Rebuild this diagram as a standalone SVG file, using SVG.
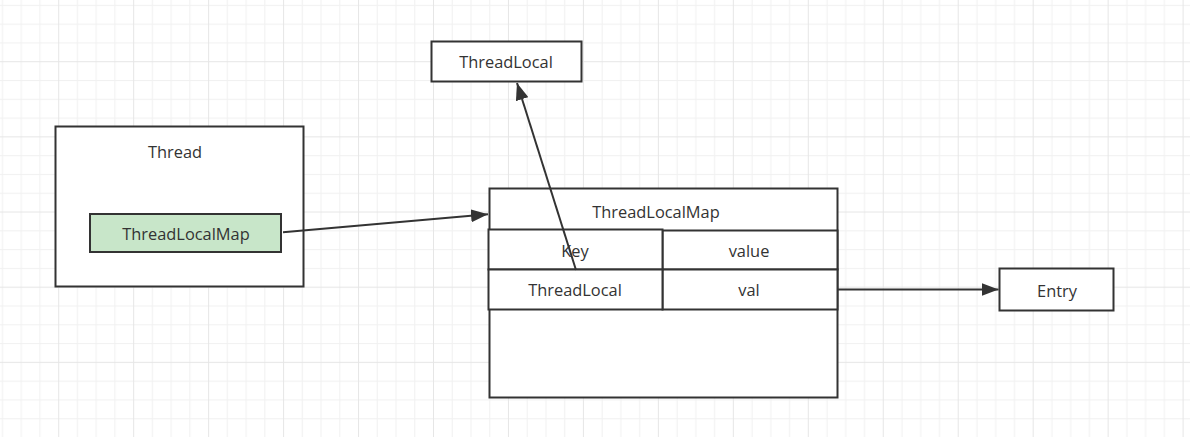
<svg xmlns="http://www.w3.org/2000/svg" width="1190" height="437" viewBox="0 0 1190 437">
<style>
.box{fill:#ffffff;stroke:#333333;stroke-width:2}
.green{fill:#c8e6c9;stroke:#333333;stroke-width:2}
.lbl{font-family:"Open Sans","Noto Sans","Liberation Sans",sans-serif;font-size:16.4px;fill:#333333;text-anchor:middle}
.edge{fill:none;stroke:#333333;stroke-width:2}
</style>
<defs>
<pattern id="grid" patternUnits="userSpaceOnUse" x="58.2" y="61.2" width="74.96" height="75.16">
<rect x="0" y="0" width="74.96" height="75.16" fill="#ffffff"/>
<rect x="18.74" y="0" width="1" height="75.16" fill="#f1f1f1"/>
<rect x="37.48" y="0" width="1" height="75.16" fill="#f1f1f1"/>
<rect x="56.22" y="0" width="1" height="75.16" fill="#f1f1f1"/>
<rect x="0" y="18.79" width="74.96" height="1" fill="#f1f1f1"/>
<rect x="0" y="37.58" width="74.96" height="1" fill="#f1f1f1"/>
<rect x="0" y="56.37" width="74.96" height="1" fill="#f1f1f1"/>
<rect x="0" y="0" width="1" height="75.16" fill="#e6e6e6"/>
<rect x="0" y="0" width="74.96" height="1" fill="#e6e6e6"/>
</pattern>
<marker id="arrow" markerUnits="userSpaceOnUse" markerWidth="18" markerHeight="13" refX="17" refY="6.5" orient="auto">
<path d="M0,0 L17,6.5 L0,13 Z" fill="#333333"/>
</marker>
</defs>
<rect x="0" y="0" width="1190" height="437" fill="url(#grid)"/>

<g id="thread">
<rect class="box" x="55.5" y="126.5" width="248" height="160"/>
<text class="lbl" x="175" y="158">Thread</text>
</g>
<g id="thread-local-map-field">
<rect class="green" x="90" y="214" width="191" height="38"/>
<text class="lbl" x="186" y="239.5">ThreadLocalMap</text>
</g>
<g id="threadlocal-top">
<rect class="box" x="431.5" y="41.5" width="150" height="40"/>
<text class="lbl" x="506" y="67.5">ThreadLocal</text>
</g>
<g id="threadlocalmap">
<rect class="box" x="489.5" y="188.5" width="348" height="209"/>
<text class="lbl" x="656" y="218">ThreadLocalMap</text>
</g>
<g id="cell-value">
<rect class="box" x="662.5" y="230.5" width="175" height="39"/>
<text class="lbl" x="749" y="257">value</text>
</g>
<g id="cell-val">
<rect class="box" x="662.5" y="269.5" width="175" height="40"/>
<text class="lbl" x="749" y="296">val</text>
</g>
<g id="cell-key">
<rect class="box" x="488.5" y="229.5" width="174" height="40"/>
<text class="lbl" x="575" y="257">Key</text>
</g>
<g id="cell-threadlocal">
<rect class="box" x="488.5" y="269.5" width="174" height="40"/>
<text class="lbl" x="575" y="296">ThreadLocal</text>
</g>
<g id="entry">
<rect class="box" x="999.5" y="268.5" width="114" height="42"/>
<text class="lbl" x="1057" y="297">Entry</text>
</g>

<g id="connectors">
<line class="edge" x1="283" y1="232.3" x2="488" y2="214.3" marker-end="url(#arrow)"/>
<line class="edge" x1="576" y1="270" x2="517" y2="83" marker-end="url(#arrow)"/>
<line class="edge" x1="838" y1="289.5" x2="998.5" y2="289.5" marker-end="url(#arrow)"/>
</g>
</svg>
